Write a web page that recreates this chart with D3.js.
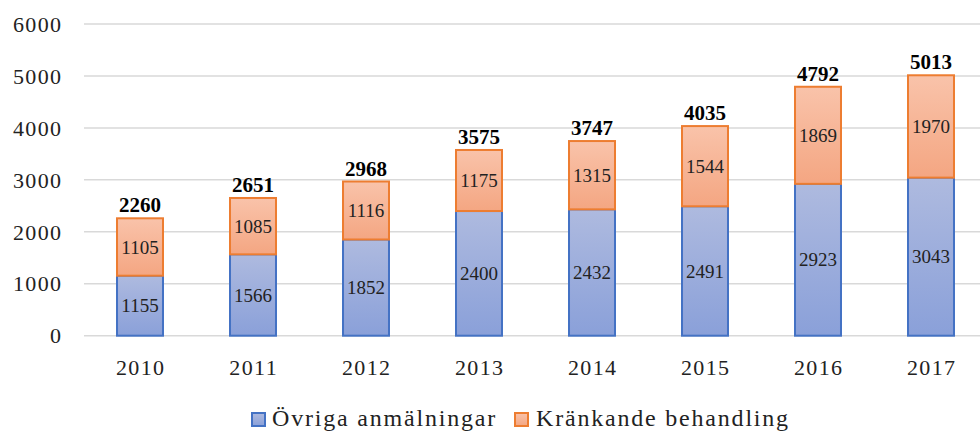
<!DOCTYPE html>
<html><head><meta charset="utf-8">
<script src="https://cdn.jsdelivr.net/npm/d3@7"></script>
<style>body{margin:0;background:#fff}svg{display:block}</style>
</head><body>
<script>
const years = ["2010","2011","2012","2013","2014","2015","2016","2017"];
const ovriga = [1155,1566,1852,2400,2432,2491,2923,3043];
const krankande = [1105,1085,1116,1175,1315,1544,1869,1970];
const totals = [2260,2651,2968,3575,3747,4035,4792,5013];
const yTicks = [0,1000,2000,3000,4000,5000,6000];
const seriesNames = ["Övriga anmälningar","Kränkande behandling"];

const W=980,H=432;
const font='Liberation Serif, DejaVu Serif, serif';
const svg=d3.select("body").append("svg").attr("width",W).attr("height",H)
 .style("font-family",font);
const defs=svg.append("defs");
function grad(id,c1,c2){const g=defs.append("linearGradient").attr("id",id).attr("x1",0).attr("y1",0).attr("x2",0).attr("y2",1);
g.append("stop").attr("offset","0%").attr("stop-color",c1);g.append("stop").attr("offset","100%").attr("stop-color",c2);}
grad("gb","#aebadf","#8aa0d9");
grad("go","#f9c3aa","#f4a682");

const x=d3.scaleBand().domain(years).range([83.5,987.5]).paddingInner(0.593).paddingOuter(0.2965);
const y=d3.scaleLinear().domain([0,6000]).range([335.7,24]);

svg.append("g").selectAll("line").data(yTicks).join("line")
 .attr("x1",84).attr("x2",W).attr("y1",d=>y(d)).attr("y2",d=>y(d))
 .attr("stroke","#d9d9d9").attr("stroke-width",1.5);

svg.append("g").selectAll("text").data(yTicks).join("text")
 .attr("x",62.5).attr("y",d=>y(d)).attr("dy","0.35em").attr("text-anchor","end")
 .attr("font-size",22).attr("letter-spacing",1.4).attr("fill","#222").text(d=>d);

svg.append("g").selectAll("text").data(years).join("text")
 .attr("x",d=>x(d)+x.bandwidth()/2+0.7).attr("y",375).attr("text-anchor","middle")
 .attr("font-size",22).attr("letter-spacing",1.4).attr("fill","#222").text(d=>d);

const bw=x.bandwidth();
svg.append("g").selectAll("rect").data(years).join("rect")
 .attr("x",d=>x(d)).attr("width",bw)
 .attr("y",(d,i)=>y(ovriga[i])).attr("height",(d,i)=>y(0)-y(ovriga[i]))
 .attr("fill","url(#gb)").attr("stroke","#4472c4").attr("stroke-width",2);
svg.append("g").selectAll("rect").data(years).join("rect")
 .attr("x",d=>x(d)).attr("width",bw)
 .attr("y",(d,i)=>y(ovriga[i]+krankande[i])).attr("height",(d,i)=>y(ovriga[i])-y(ovriga[i]+krankande[i]))
 .attr("fill","url(#go)").attr("stroke","#ed7d31").attr("stroke-width",2);

svg.append("g").selectAll("text").data(years).join("text")
 .attr("x",d=>x(d)+bw/2).attr("y",(d,i)=>y(ovriga[i]/2)).attr("dy","0.35em").attr("text-anchor","middle")
 .attr("font-size",19).attr("fill","#222").text((d,i)=>ovriga[i]);
svg.append("g").selectAll("text").data(years).join("text")
 .attr("x",d=>x(d)+bw/2).attr("y",(d,i)=>y(ovriga[i]+krankande[i]/2)).attr("dy","0.35em").attr("text-anchor","middle")
 .attr("font-size",19).attr("fill","#222").text((d,i)=>krankande[i]);
svg.append("g").selectAll("text").data(years).join("text")
 .attr("x",d=>x(d)+bw/2).attr("y",(d,i)=>y(totals[i])-6).attr("text-anchor","middle")
 .attr("font-size",21).attr("font-weight","bold").attr("fill","#000").text((d,i)=>totals[i]);

const leg=[{x:252,tx:272,fill:"url(#gb)",stroke:"#4472c4"},{x:515,tx:536,fill:"url(#go)",stroke:"#ed7d31"}];
const lg=svg.append("g").selectAll("g").data(leg).join("g");
lg.append("rect").attr("x",d=>d.x).attr("y",413).attr("width",13).attr("height",13)
 .attr("fill",d=>d.fill).attr("stroke",d=>d.stroke).attr("stroke-width",2);
lg.append("text").attr("x",d=>d.tx).attr("y",426).attr("font-size",24).attr("letter-spacing",1.8).attr("fill","#222")
 .text((d,i)=>seriesNames[i]);
</script>
</body></html>
